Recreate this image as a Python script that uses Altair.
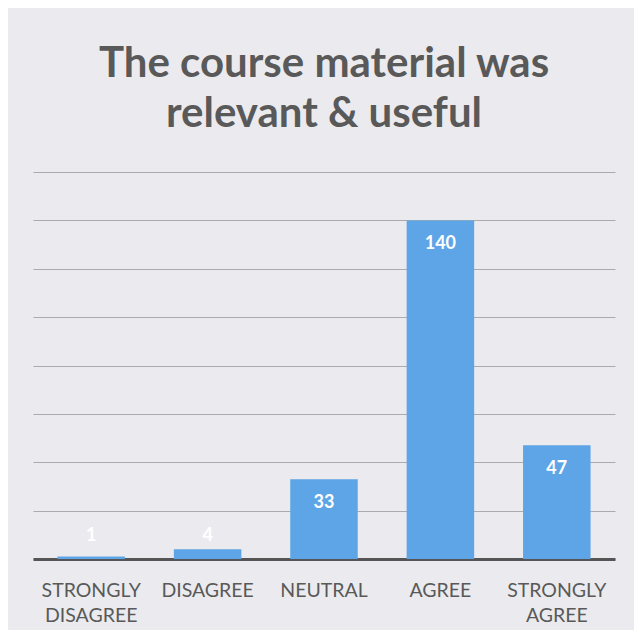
import altair as alt
import pandas as pd

categories = ["STRONGLY DISAGREE", "DISAGREE", "NEUTRAL", "AGREE", "STRONGLY AGREE"]
values = [1, 4, 33, 140, 47]
grid_ticks = [0, 20, 40, 60, 80, 100, 120, 140, 160]

df = pd.DataFrame({"category": categories, "value": values})

x = alt.X("category:N", sort=categories, title=None,
          scale=alt.Scale(paddingInner=0.42, paddingOuter=0.21),
          axis=alt.Axis(labelAngle=0, labelExpr="split(datum.label, ' ')",
                        labelFont="Lato", labelFontSize=19.5, labelColor="#595959",
                        labelLineHeight=25, labelPadding=22, ticks=False,
                        domainColor="#555555", domainWidth=3, grid=False))
y = alt.Y("value:Q", title=None,
          scale=alt.Scale(domain=[0, 160], nice=False),
          axis=alt.Axis(values=grid_ticks, labels=False, ticks=False, domain=False,
                        grid=True, gridColor="#ababab", gridWidth=1))

bars = alt.Chart(df).mark_bar(color="#5DA5E6").encode(x=x, y=y)

labels = alt.Chart(df).transform_calculate(
    ly="max(datum.value, 19.5)"
).mark_text(color="white", font="Lato", fontWeight="bold", fontSize=18,
            baseline="middle", dy=24).encode(
    x=alt.X("category:N", sort=categories),
    y=alt.Y("ly:Q"),
    text=alt.Text("value:Q"),
)

chart = alt.layer(bars, labels).properties(
    width=582, height=387,
    background="#ebebef",
    padding={"left": 25, "top": 35, "right": 19, "bottom": 5},
    title=alt.TitleParams(
        text=["The course material was", "relevant & useful"],
        font="Lato", fontSize=42, fontWeight="bold", color="#595959",
        lineHeight=50, anchor="middle", offset=36,
    ),
).configure_view(stroke=None)

chart.save("out.html", embed_options={"renderer": "svg", "actions": False})
